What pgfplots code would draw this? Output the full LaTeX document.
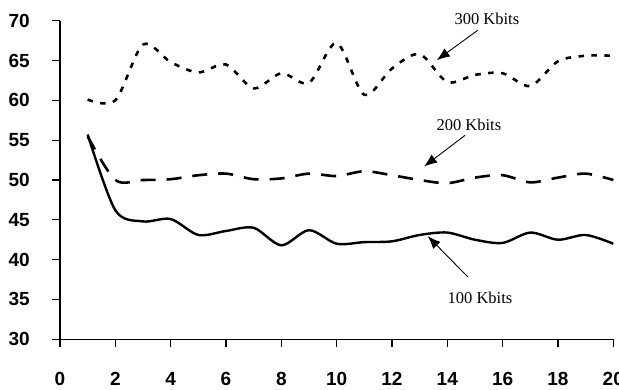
\documentclass[border=0pt]{standalone}
\usepackage{fontspec}
\setmainfont{Liberation Serif}
\setsansfont{Liberation Sans}
\usepackage{pgfplots}
\pgfplotsset{compat=1.18}
\usetikzlibrary{arrows.meta}

\pgfplotstableread{
x y
1 60.1
2 60.0
3 67.0
4 64.8
5 63.5
6 64.5
7 61.5
8 63.4
9 62.2
10 67.2
11 60.7
12 64.0
13 65.8
14 62.3
15 63.2
16 63.4
17 61.8
18 64.9
19 65.6
20 65.6
}\kbthree

\pgfplotstableread{
x y
1 55.5
2 50.0
3 50.0
4 50.1
5 50.6
6 50.8
7 50.1
8 50.2
9 50.8
10 50.5
11 51.1
12 50.6
13 50.0
14 49.6
15 50.3
16 50.6
17 49.7
18 50.3
19 50.8
20 50.0
}\kbtwo

\pgfplotstableread{
x y
1 55.7
2 46.2
3 44.8
4 45.1
5 43.1
6 43.6
7 44.0
8 41.8
9 43.7
10 42.0
11 42.2
12 42.3
13 43.1
14 43.4
15 42.5
16 42.1
17 43.4
18 42.5
19 43.1
20 42.0
}\kbone

\begin{document}
\begin{tikzpicture}
\begin{axis}[
  scale only axis,
  width=553.3pt, height=318.6pt,
  xmin=0, xmax=20, ymin=30, ymax=70,
  axis x line=bottom, axis y line=left,
  axis line style={-, line width=1.3pt},
  xtick={0,2,...,20}, ytick={30,35,...,70},
  tick align=outside,
  major tick length=8pt,
  tick style={line width=1.3pt, black},
  /pgf/number format/assume math mode=true,
  ticklabel style={font=\fontsize{19}{19}\selectfont\sffamily\bfseries, inner sep=0pt},
  xticklabel style={anchor=north, yshift=-25pt},
  yticklabel style={anchor=east, xshift=-22pt},
  clip=false,
]
\addplot[black, line width=2.6pt, smooth, dash pattern=on 5.5pt off 7.5pt] table {\kbthree};
\addplot[black, line width=2.6pt, smooth, dash pattern=on 15pt off 11pt] table {\kbtwo};
\addplot[black, line width=2.4pt, smooth] table {\kbone};

\node[font=\fontsize{16.5}{16.5}\selectfont] at (axis cs:15.43,70.2) {300 Kbits};
\draw[line width=0.9pt, -{Latex[length=13pt,width=10pt]}] (axis cs:15.1,68.8) -- (axis cs:13.62,65.05);
\node[font=\fontsize{16.5}{16.5}\selectfont] at (axis cs:14.78,56.9) {200 Kbits};
\draw[line width=0.9pt, -{Latex[length=13pt,width=10pt]}] (axis cs:14.64,55.6) -- (axis cs:13.16,51.7);
\node[font=\fontsize{16.5}{16.5}\selectfont] at (axis cs:15.18,35.2) {100 Kbits};
\draw[line width=0.9pt, -{Latex[length=13pt,width=10pt]}] (axis cs:14.75,37.8) -- (axis cs:13.29,42.96);
\coordinate (O) at (axis cs:0,30);
\end{axis}
\pgfresetboundingbox
\path (O) ++(-60pt,-50.7pt) rectangle ++(619pt,390pt);
\end{tikzpicture}
\end{document}
